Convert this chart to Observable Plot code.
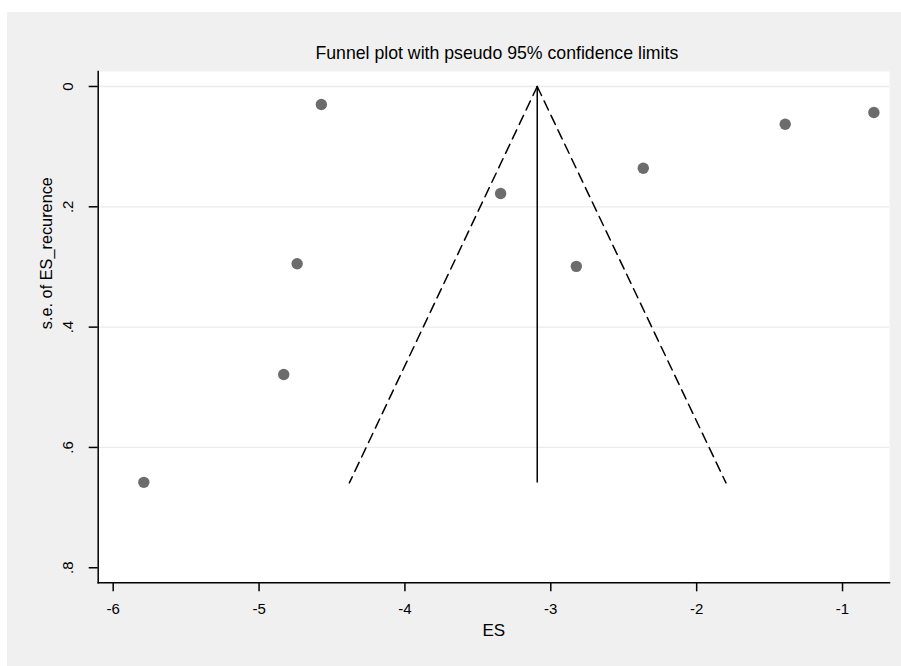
<!DOCTYPE html>
<html><head><meta charset="utf-8">
<script src="https://cdn.jsdelivr.net/npm/d3@7"></script>
<script src="https://cdn.jsdelivr.net/npm/@observablehq/plot@0.6"></script>
<style>
html,body{margin:0;padding:0;background:#fff;}
#chart{position:absolute;left:7px;top:12px;}
</style></head><body><div id="chart"></div>
<script>
const studyES = [-5.790, -4.831, -4.739, -4.573, -3.344, -2.825, -2.366, -1.393, -0.785];
const studySE = [0.658, 0.4787, 0.2947, 0.030, 0.178, 0.299, 0.136, 0.0627, 0.0432];
const pooledES = -3.093;
const funnelSE = [0, 0.659];
const lowerLimit = [-3.093, -4.381];
const upperLimit = [-3.093, -1.799];
const xTicks = [-6, -5, -4, -3, -2, -1];
const xTickLabels = ["-6", "-5", "-4", "-3", "-2", "-1"];
const yTicks = [0, 0.2, 0.4, 0.6, 0.8];
const yTickLabels = ["0", ".2", ".4", ".6", ".8"];
const gridTicks = [0, 0.2, 0.4, 0.6];
const titleText = "Funnel plot with pseudo 95% confidence limits";
const xLabel = "ES";
const yLabel = "s.e. of ES_recurence";

const points = studyES.map((es, i) => ({es, se: studySE[i]}));
const lower = funnelSE.map((se, i) => ({se, es: lowerLimit[i]}));
const upper = funnelSE.map((se, i) => ({se, es: upperLimit[i]}));

const chart = Plot.plot({
  width: 894, height: 654,
  marginLeft: 90.7, marginRight: 12, marginTop: 59, marginBottom: 83.7,
  style: {background: "#f0f0f0", fontFamily: "'Liberation Sans', Arial, sans-serif", fontSize: "15px", color: "#000"},
  x: {domain: [-6.1028, -0.678]},
  y: {domain: [-0.0249, 0.825], reverse: true},
  marks: [
    Plot.frame({fill: "white", stroke: "none"}),
    Plot.ruleY(gridTicks, {stroke: "#ebebeb", strokeWidth: 1.3}),
    Plot.line(lower, {x: "es", y: "se", stroke: "black", strokeWidth: 1.5, strokeDasharray: "10,6"}),
    Plot.line(upper, {x: "es", y: "se", stroke: "black", strokeWidth: 1.5, strokeDasharray: "10,6"}),
    Plot.ruleX([pooledES], {y1: funnelSE[0], y2: funnelSE[1], stroke: "black", strokeWidth: 1.5}),
    Plot.dot(points, {x: "es", y: "se", r: 5.7, fill: "#6c6c6c", stroke: "none"}),
    Plot.axisX({ticks: xTicks, tickFormat: d => xTickLabels[xTicks.indexOf(d)], tickSize: 9, tickPadding: 12, label: null, fontSize: 15, strokeWidth: 1.5}),
    Plot.axisY({ticks: yTicks, tickFormat: d => yTickLabels[yTicks.indexOf(d)], tickRotate: -90, tickSize: 9, tickPadding: 16.7, label: null, fontSize: 15, strokeWidth: 1.5}),
    Plot.frame({anchor: "left", stroke: "black", strokeWidth: 1.5}),
    Plot.frame({anchor: "bottom", stroke: "black", strokeWidth: 1.5}),
    Plot.text([titleText], {frameAnchor: "top", lineAnchor: "bottom", dy: -12.7, dx: 3, fontSize: 17.7}),
    Plot.text([xLabel], {frameAnchor: "bottom", lineAnchor: "top", dy: 41, fontSize: 17}),
    Plot.text([yLabel], {frameAnchor: "left", lineAnchor: "bottom", rotate: -90, dx: -46.2, dy: 2, fontSize: 16.3})
  ]
});
document.getElementById("chart").appendChild(chart);
</script></body></html>
